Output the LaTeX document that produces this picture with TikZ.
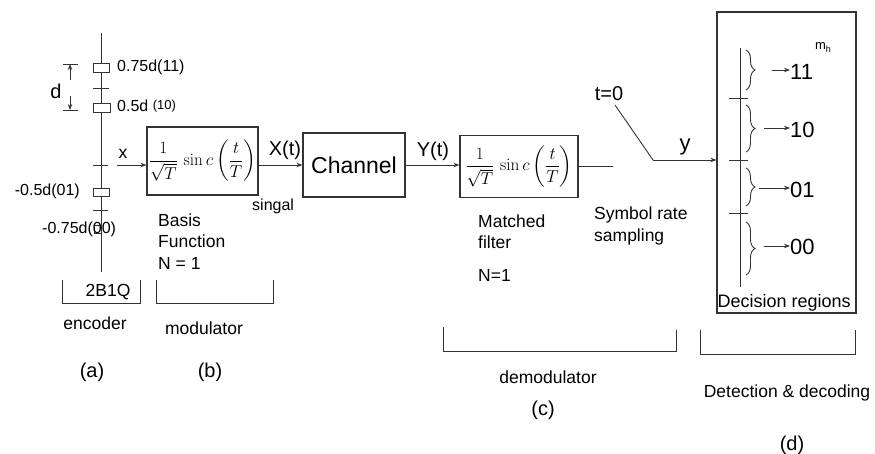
\documentclass[tikz,border=0pt]{standalone}
\usepackage{amsmath}
\usepackage[no-math]{fontspec}
\setmainfont{Liberation Sans}
\usetikzlibrary{arrows.meta,decorations.pathreplacing}
\newcommand{\sincfml}{\fontsize{16}{19}\selectfont$\dfrac{1}{\sqrt{T}}\,\sin c\left(\dfrac{t}{T}\right)$}
\begin{document}
\begin{tikzpicture}[x=1pt,y=-1pt,
  ln/.style={draw=black!80, line width=0.9pt},
  arr/.style={ln,-{Stealth[length=6pt,width=4.5pt]}},
  blk/.style={draw=black!80, line width=1.1pt, inner sep=0pt},
  t16/.style={font=\fontsize{16}{18}\selectfont, inner sep=0pt},
  t17/.style={font=\fontsize{17.5}{19}\selectfont, inner sep=0pt},
  t20/.style={font=\fontsize{20}{22}\selectfont, inner sep=0pt},
  t22/.style={font=\fontsize{22}{24}\selectfont, inner sep=0pt},
  brc/.style={ln, decorate, decoration={brace, amplitude=9pt}},
]
\useasboundingbox (0,0) rectangle (875,454);

% ---- (a) encoder constellation ----
\coordinate (ltop) at (101,33);
\coordinate (lbot) at (101,272);
\draw[ln] (ltop) -- (lbot);
\draw[ln, fill=white] (93,63) rectangle (109,72);
\draw[ln, fill=white] (93,103) rectangle (110,112);
\draw[ln, fill=white] (93,188) rectangle (109,196);
\draw[ln] (94,225) rectangle (101,233);
\draw[ln] (93,88) -- (109,88);
\draw[ln] (93,165) -- (108,165);
\draw[ln] (93,210) -- (108,210);

\node[t16, anchor=west] (p11) at (117,67) {0.75d(11)};
\node[anchor=west, inner sep=0pt] (p10) at (117,106) {\fontsize{16}{18}\selectfont 0.5d \raisebox{2pt}{\fontsize{13}{15}\selectfont(10)}};
\node[t16, anchor=east] (p01) at (80,191) {-0.5d(01)};
\node[t16, anchor=west] (p00) at (42,229) {-0.75d(00)};

% d dimension
\draw[ln] (63,64) -- (78,64);
\draw[ln] (63,110) -- (78,110);
\coordinate (da) at (70,80);
\coordinate (db) at (70,96);
\draw[arr] (da) -- (70,64);
\draw[arr] (db) -- (70,110);
\node[t20] (dlbl) at (56,91) {d};

% ---- blocks ----
\node[blk, minimum width=111pt, minimum height=68pt] (modb) at (202.5,161) {\sincfml};
\node[blk, minimum width=102pt, minimum height=64pt] (chan) at (354,165)
  {\fontsize{23}{25}\selectfont Channel};
\node[blk, minimum width=118pt, minimum height=62pt] (mf) at (519,166.5) {\sincfml};
\node[blk, minimum width=139pt, minimum height=301pt] (dec) at (786.5,162.5) {};

% x input
\node[t17] (xl) at (123,154) {x};
\coordinate (xs) at (117,165);
\draw[arr] (xs) -- (xs -| modb.west);

% X(t), Y(t)
\draw[arr] (modb.east |- chan.west) -- (chan.west);
\node[t20] (Xt) at (285,150) {X(t)};
\node[t16, anchor=west] (sg) at (252,206) {singal};
\draw[arr] (chan.east) -- (chan.east -| mf.west);
\node[t20] (Yt) at (433,151) {Y(t)};

% output + sampler
\coordinate (mo) at (613,166.5);
\draw[ln] (mf.east) -- (mo);
\node[t20] (t0) at (609,94) {t=0};
\coordinate (sw1) at (615,105);
\coordinate (sw2) at (653,160);
\draw[ln] (sw1) -- (sw2);
\draw[arr] (sw2) -- (sw2 -| dec.west);
\node[t22] (ylbl) at (685,147) {y};

% texts under blocks
\node[t17, anchor=west] (bas1) at (158,220) {Basis};
\node[t17, anchor=west] (bas2) at (158,241) {Function};
\node[t17, anchor=west] (bas3) at (158,263) {N = 1};
\node[t17, anchor=west] (mt1) at (478,221) {Matched};
\node[t17, anchor=west] (mt2) at (478,242) {filter};
\node[t17, anchor=west] (mt3) at (478,275) {N=1};
\node[t17, anchor=west] (sr1) at (594,215) {Symbol rate};
\node[t17, anchor=west] (sr2) at (594,237) {sampling};

% ---- decision regions ----
\draw[ln] (740,48) -- (740,287);
\draw[ln] (729,98) -- (748,98);
\draw[ln] (729,160) -- (748,160);
\draw[ln] (729,213) -- (748,213);
\draw[brc] (746,50) -- (746,90);
\draw[brc] (746,105) -- (746,152);
\draw[brc] (746,168) -- (746,206);
\draw[brc] (746,222) -- (746,275);
\node[t22, anchor=west] (o11) at (790,72) {11};
\node[t22, anchor=west] (o10) at (790,130) {10};
\node[t22, anchor=west] (o01) at (790,190) {01};
\node[t22, anchor=west] (o00) at (790,247) {00};
\coordinate (b1) at (772,70);
\coordinate (b2) at (764,128);
\coordinate (b3) at (759,188);
\coordinate (b4) at (764,246);
\draw[arr] (b1) -- (b1 -| o11.west);
\draw[arr] (b2) -- (b2 -| o10.west);
\draw[arr] (b3) -- (b3 -| o01.west);
\draw[arr] (b4) -- (b4 -| o00.west);
\node[inner sep=0pt] (mh) at (823,48) {\fontsize{13}{15}\selectfont m\raisebox{-3pt}{\fontsize{9}{10}\selectfont h}};
\node[font=\fontsize{18}{20}\selectfont, inner sep=0pt, anchor=south west] (dr) at ([xshift=1pt, yshift=2pt]dec.south west) {Decision regions};

% ---- bottom brackets and captions ----
\draw[ln] (62,280) -- (62,303) -- (140,303) -- (140,280);
\node[t17] (enc2) at (108,292) {2B1Q};
\node[t17] (enc) at (95,323) {encoder};
\draw[ln] (156,280) -- (156,303) -- (273,303) -- (273,280);
\node[t17] (modl) at (204,328) {modulator};
\draw[ln] (443,327) -- (443,351) -- (676,351) -- (676,330);
\node[t17] (demod) at (548,377) {demodulator};
\draw[ln] (700,330) -- (700,354) -- (855,354) -- (855,330);
\node[t17] (detd) at (787,393) {Detection \& decoding};
\node[t20] (ca) at (92,372) {(a)};
\node[t20] (cb) at (210,372) {(b)};
\node[t20] (cc) at (543,410) {(c)};
\node[t20] (cd) at (792,445) {(d)};
\end{tikzpicture}
\end{document}
